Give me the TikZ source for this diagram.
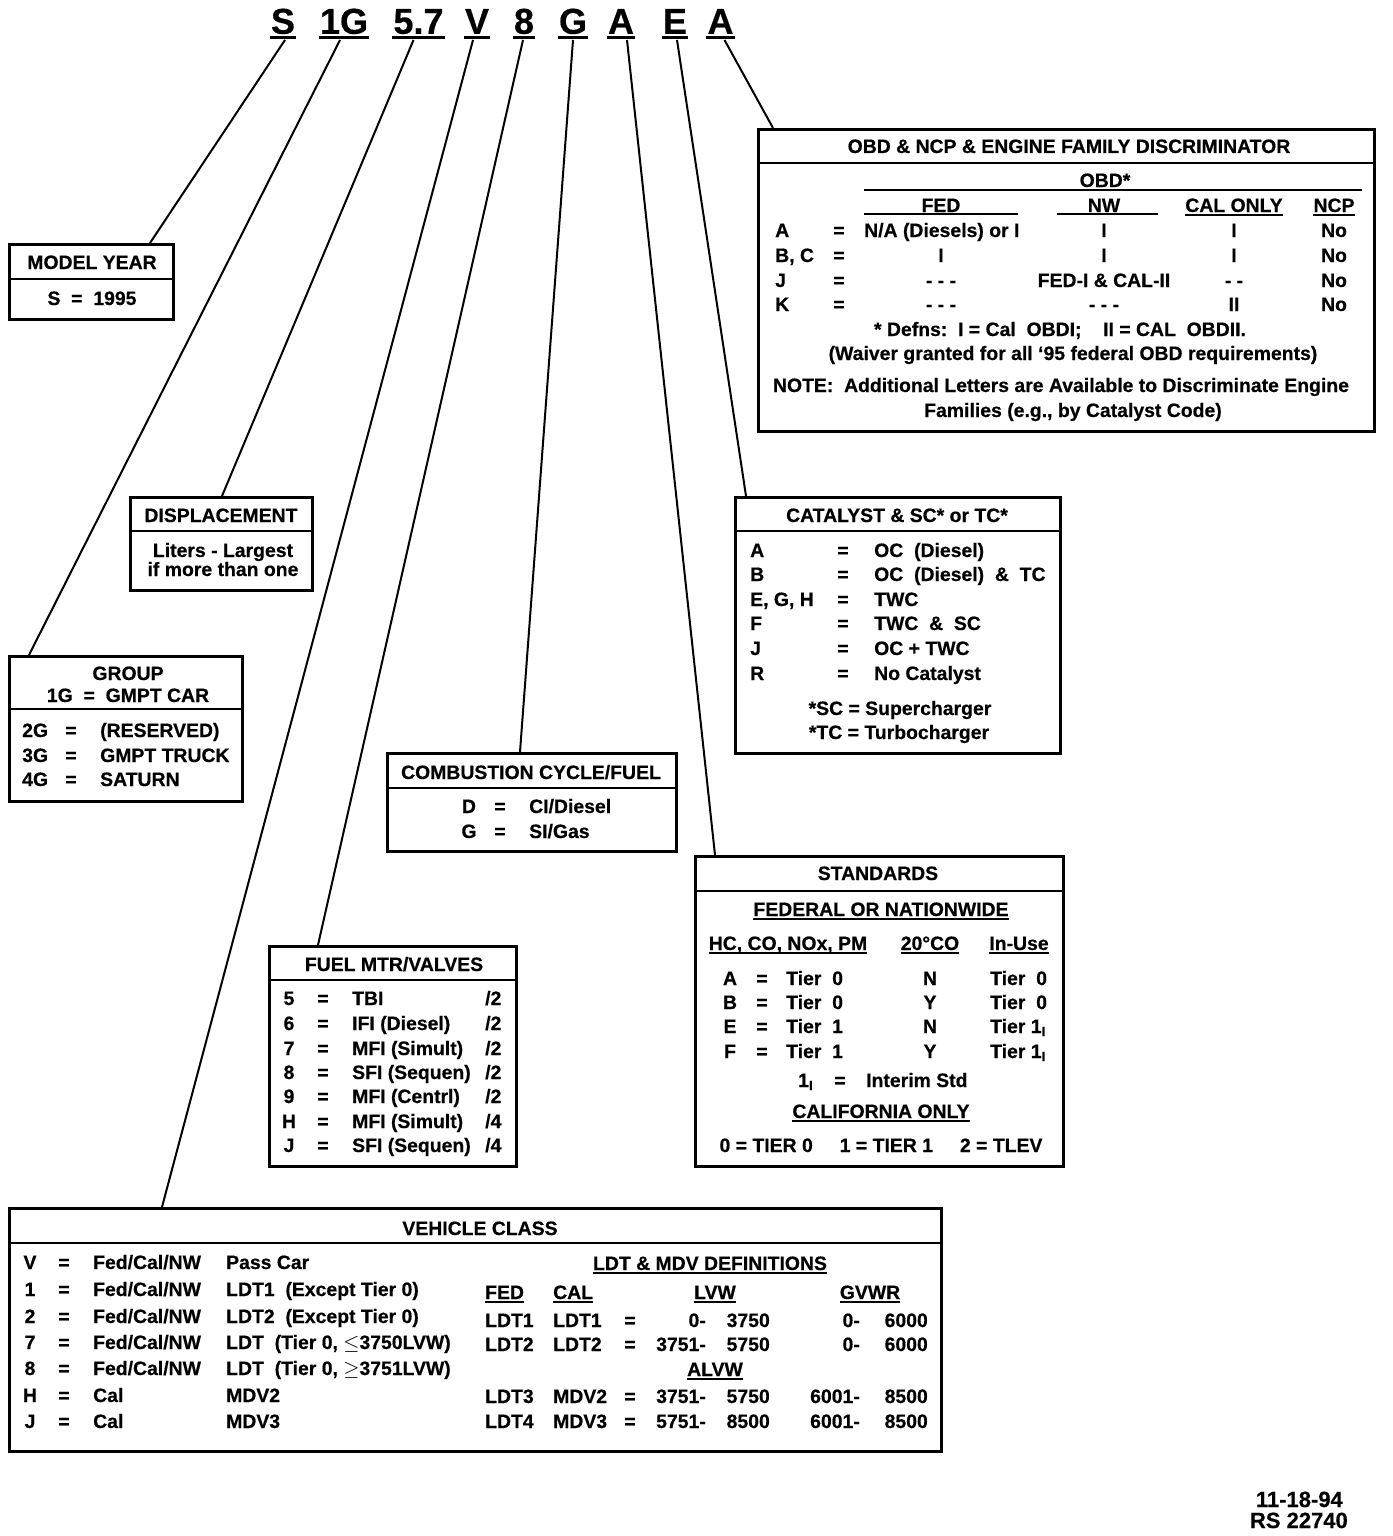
\documentclass[tikz,border=0pt]{standalone}
\usepackage{fontspec}
\setmainfont{Liberation Sans}[BoldFeatures={FakeBold=0.5}]
\usepackage{tikz}
\usetikzlibrary{calc,positioning}
\definecolor{scanBlack}{RGB}{0,0,0}

\tikzset{
  code/.style={font=\fontsize{36}{40}\selectfont\bfseries, inner sep=0pt, anchor=south, text depth=0pt,
    append after command={([xshift=-1pt,yshift=-3.5pt]\tikzlastnode.south west) edge[line width=3pt, scanBlack] ([xshift=1pt,yshift=-3.5pt]\tikzlastnode.south east)}},
  leader/.style={scanBlack, line width=2pt},
  frame/.style={draw=scanBlack, line width=2.6pt, anchor=north west, inner sep=0pt},
  divider/.style={scanBlack, line width=2pt},
  rule/.style={scanBlack, line width=1.6pt},
  txt/.style={font=\fontsize{19.4}{22}\selectfont\bfseries, text=scanBlack, inner sep=0pt, text height=14pt, text depth=0pt},
  lt/.style={txt, anchor=west},
  rt/.style={txt, anchor=east},
  uline/.style={append after command={([yshift=-3pt]\tikzlastnode.south west) edge[rule] ([yshift=-3pt]\tikzlastnode.south east)}},
}

\begin{document}
\begin{tikzpicture}[x=1pt, y=-1pt]
\useasboundingbox (0,0) rectangle (1392,1536);

% engine code
\node[code] (cS) at (283,34) {S};
\node[code] (cG1) at (344,34) {1G};
\node[code] (cL) at (418.5,34) {5.7};
\node[code] (cV) at (477,34) {V};
\node[code] (c8) at (524,34) {8};
\node[code] (cG) at (573,34) {G};
\node[code] (cA) at (621,34) {A};
\node[code] (cE) at (675,34) {E};
\node[code] (cA2) at (720.5,34) {A};

% model year
\node[frame, minimum width=164, minimum height=75] (year) at (8,243) {};
\draw[divider] ([yshift=-36pt]year.north west) -- ([yshift=-36pt]year.north east);
\node[txt] (yearT) at (92,262) {MODEL YEAR};
\node[txt] (yearS) at (92,298) {S~~=~~1995};

% displacement
\node[frame, minimum width=182, minimum height=93] (disp) at (129,496) {};
\draw[divider] ([yshift=-35pt]disp.north west) -- ([yshift=-35pt]disp.north east);
\node[txt] (dispT) at (221,515) {DISPLACEMENT};
\node[txt] (dispA) at (223,550) {Liters - Largest};
\node[txt] (dispB) at (223,569) {if more than one};

% group
\node[frame, minimum width=233, minimum height=145] (grp) at (8,655) {};
\draw[divider] ([yshift=-54pt]grp.north west) -- ([yshift=-54pt]grp.north east);
\node[txt] (grpT) at (128,673) {GROUP};
\node[txt] (grpA) at (128,695) {1G~~=~~GMPT CAR};
\node[lt] (g2k) at (22,730) {2G}; \node[txt] (g2e) at (71,730) {=}; \node[lt] (g2v) at (100,730) {(RESERVED)};
\node[lt] (g3k) at (22,755) {3G}; \node[txt] (g3e) at (71,755) {=}; \node[lt] (g3v) at (100,755) {GMPT TRUCK};
\node[lt] (g4k) at (22,779) {4G}; \node[txt] (g4e) at (71,779) {=}; \node[lt] (g4v) at (100,779) {SATURN};

% obd & ncp
\node[frame, minimum width=616, minimum height=302] (obd) at (757,128) {};
\draw[divider] ([yshift=-35pt]obd.north west) -- ([yshift=-35pt]obd.north east);
\node[txt] (obdT) at (1069,146) {OBD \& NCP \& ENGINE FAMILY DISCRIMINATOR};
\node[txt] (obdH) at (1105,180) {OBD*};
\draw[rule] (864,190) -- (1362,190);
\node[txt] (obdFed) at (941,205) {FED};
\draw[rule] (864,214) -- (1018,214);
\node[txt] (obdNw) at (1104,205) {NW};
\draw[rule] (1057,214) -- (1158,214);
\node[txt, uline] (obdCal) at (1234,205) {CAL ONLY};
\node[txt, uline] (obdNcp) at (1334,205) {NCP};
\node[lt] (oAk) at (775,230) {A}; \node[txt] (oAe) at (839,230) {=}; \node[lt] (oAf) at (864,230) {N/A (Diesels) or I};
\node[txt] (oAn) at (1104,230) {I}; \node[txt] (oAc) at (1234,230) {I}; \node[txt] (oAp) at (1334,230) {No};
\node[lt] (oBk) at (775,255) {B, C}; \node[txt] (oBe) at (839,255) {=}; \node[txt] (oBf) at (941,255) {I};
\node[txt] (oBn) at (1104,255) {I}; \node[txt] (oBc) at (1234,255) {I}; \node[txt] (oBp) at (1334,255) {No};
\node[lt] (oJk) at (775,280) {J}; \node[txt] (oJe) at (839,280) {=}; \node[txt] (oJf) at (941,280) {- - -};
\node[txt] (oJn) at (1104,280) {FED-I \& CAL-II}; \node[txt] (oJc) at (1234,280) {- -}; \node[txt] (oJp) at (1334,280) {No};
\node[lt] (oKk) at (775,304) {K}; \node[txt] (oKe) at (839,304) {=}; \node[txt] (oKf) at (941,304) {- - -};
\node[txt] (oKn) at (1104,304) {- - -}; \node[txt] (oKc) at (1234,304) {II}; \node[txt] (oKp) at (1334,304) {No};
\node[txt] (obdDef) at (1060,329) {* Defns:~~I = Cal~~OBDI;~~~~II = CAL~~OBDII.};
\node[txt] (obdWv) at (1073,353) {(Waiver granted for all `95 federal OBD requirements)};
\node[txt] (obdNa) at (1061,385) {NOTE:~~Additional Letters are Available to Discriminate Engine};
\node[txt] (obdNb) at (1073,410) {Families (e.g., by Catalyst Code)};

% catalyst
\node[frame, minimum width=325, minimum height=256] (cat) at (734,496) {};
\draw[divider] ([yshift=-35pt]cat.north west) -- ([yshift=-35pt]cat.north east);
\node[txt] (catT) at (897,515) {CATALYST \& SC* or TC*};
\node[lt] (kA) at (750,550) {A}; \node[txt] (eA) at (843,550) {=}; \node[lt] (vA) at (874,550) {OC~~(Diesel)};
\node[lt] (kB) at (750,574) {B}; \node[txt] (eB) at (843,574) {=}; \node[lt] (vB) at (874,574) {OC~~(Diesel)~~\&~~TC};
\node[lt] (kE) at (750,599) {E, G, H}; \node[txt] (eE) at (843,599) {=}; \node[lt] (vE) at (874,599) {TWC};
\node[lt] (kF) at (750,623) {F}; \node[txt] (eF) at (843,623) {=}; \node[lt] (vF) at (874,623) {TWC~~\&~~SC};
\node[lt] (kJ) at (750,648) {J}; \node[txt] (eJ) at (843,648) {=}; \node[lt] (vJ) at (874,648) {OC + TWC};
\node[lt] (kR) at (750,673) {R}; \node[txt] (eR) at (843,673) {=}; \node[lt] (vR) at (874,673) {No Catalyst};
\node[txt] (catSc) at (900,708) {*SC = Supercharger};
\node[txt] (catTc) at (899,732) {*TC = Turbocharger};

% combustion
\node[frame, minimum width=289, minimum height=98] (comb) at (386,752) {};
\draw[divider] ([yshift=-36pt]comb.north west) -- ([yshift=-36pt]comb.north east);
\node[txt] (combT) at (531,772) {COMBUSTION CYCLE/FUEL};
\node[txt] (cbDk) at (469,806) {D}; \node[txt] (cbDe) at (500,806) {=}; \node[lt] (cbDv) at (529,806) {CI/Diesel};
\node[txt] (cbGk) at (469,831) {G}; \node[txt] (cbGe) at (500,831) {=}; \node[lt] (cbGv) at (529,831) {SI/Gas};

% standards
\node[frame, minimum width=368, minimum height=310] (std) at (694,855) {};
\draw[divider] ([yshift=-36pt]std.north west) -- ([yshift=-36pt]std.north east);
\node[txt] (stdT) at (878,873) {STANDARDS};
\node[txt, uline] (stdFed) at (881,909) {FEDERAL OR NATIONWIDE};
\node[txt, uline] (stdH1) at (788,943) {HC, CO, NOx, PM};
\node[txt, uline] (stdH2) at (930,943) {20°CO};
\node[txt, uline] (stdH3) at (1019,943) {In-Use};
\node[txt] (sAk) at (730,978) {A}; \node[txt] (sAe) at (762,978) {=}; \node[lt] (sAt) at (786,978) {Tier~~0};
\node[txt] (sAc) at (930,978) {N}; \node[lt] (sAu) at (990,978) {Tier~~0};
\node[txt] (sBk) at (730,1002) {B}; \node[txt] (sBe) at (762,1002) {=}; \node[lt] (sBt) at (786,1002) {Tier~~0};
\node[txt] (sBc) at (930,1002) {Y}; \node[lt] (sBu) at (990,1002) {Tier~~0};
\node[txt] (sEk) at (730,1026) {E}; \node[txt] (sEe) at (762,1026) {=}; \node[lt] (sEt) at (786,1026) {Tier~~1};
\node[txt] (sEc) at (930,1026) {N}; \node[lt] (sEu) at (990,1026) {Tier 1\textsubscript{I}};
\node[txt] (sFk) at (730,1051) {F}; \node[txt] (sFe) at (762,1051) {=}; \node[lt] (sFt) at (786,1051) {Tier~~1};
\node[txt] (sFc) at (930,1051) {Y}; \node[lt] (sFu) at (990,1051) {Tier 1\textsubscript{I}};
\node[lt] (sIk) at (798,1080) {1\textsubscript{I}}; \node[txt] (sIe) at (840,1080) {=}; \node[lt] (sIv) at (866,1080) {Interim Std};
\node[txt, uline] (stdCal) at (881,1111) {CALIFORNIA ONLY};
\node[txt] (stdTiers) at (881,1145) {0 = TIER 0~~~~~1 = TIER 1~~~~~2 = TLEV};

% fuel metering
\node[frame, minimum width=247, minimum height=220] (fuel) at (268,945) {};
\draw[divider] ([yshift=-35pt]fuel.north west) -- ([yshift=-35pt]fuel.north east);
\node[txt] (fuelT) at (394,964) {FUEL MTR/VALVES};
\node[txt] (f5k) at (289,998) {5}; \node[txt] (f5e) at (323,998) {=}; \node[lt] (f5v) at (352,998) {TBI}; \node[lt] (f5r) at (485,998) {/2};
\node[txt] (f6k) at (289,1023) {6}; \node[txt] (f6e) at (323,1023) {=}; \node[lt] (f6v) at (352,1023) {IFI (Diesel)}; \node[lt] (f6r) at (485,1023) {/2};
\node[txt] (f7k) at (289,1048) {7}; \node[txt] (f7e) at (323,1048) {=}; \node[lt] (f7v) at (352,1048) {MFI (Simult)}; \node[lt] (f7r) at (485,1048) {/2};
\node[txt] (f8k) at (289,1072) {8}; \node[txt] (f8e) at (323,1072) {=}; \node[lt] (f8v) at (352,1072) {SFI (Sequen)}; \node[lt] (f8r) at (485,1072) {/2};
\node[txt] (f9k) at (289,1096) {9}; \node[txt] (f9e) at (323,1096) {=}; \node[lt] (f9v) at (352,1096) {MFI (Centrl)}; \node[lt] (f9r) at (485,1096) {/2};
\node[txt] (fHk) at (289,1121) {H}; \node[txt] (fHe) at (323,1121) {=}; \node[lt] (fHv) at (352,1121) {MFI (Simult)}; \node[lt] (fHr) at (485,1121) {/4};
\node[txt] (fJk) at (289,1145) {J}; \node[txt] (fJe) at (323,1145) {=}; \node[lt] (fJv) at (352,1145) {SFI (Sequen)}; \node[lt] (fJr) at (485,1145) {/4};

% vehicle class
\node[frame, minimum width=932, minimum height=243] (veh) at (8,1207) {};
\draw[divider] ([yshift=-36pt]veh.north west) -- ([yshift=-36pt]veh.north east);
\node[txt] (vehT) at (480,1228) {VEHICLE CLASS};
\node[txt] (vVk) at (30,1262) {V}; \node[txt] (vVe) at (64,1262) {=}; \node[lt] (vVr) at (93,1262) {Fed/Cal/NW}; \node[lt] (vVd) at (226,1262) {Pass Car};
\node[txt] (v1k) at (30,1289) {1}; \node[txt] (v1e) at (64,1289) {=}; \node[lt] (v1r) at (93,1289) {Fed/Cal/NW}; \node[lt] (v1d) at (226,1289) {LDT1~~(Except Tier 0)};
\node[txt] (v2k) at (30,1316) {2}; \node[txt] (v2e) at (64,1316) {=}; \node[lt] (v2r) at (93,1316) {Fed/Cal/NW}; \node[lt] (v2d) at (226,1316) {LDT2~~(Except Tier 0)};
\node[txt] (v7k) at (30,1342) {7}; \node[txt] (v7e) at (64,1342) {=}; \node[lt] (v7r) at (93,1342) {Fed/Cal/NW}; \node[lt] (v7d) at (226,1342) {LDT~~(Tier 0, $\leq$3750LVW)};
\node[txt] (v8k) at (30,1368) {8}; \node[txt] (v8e) at (64,1368) {=}; \node[lt] (v8r) at (93,1368) {Fed/Cal/NW}; \node[lt] (v8d) at (226,1368) {LDT~~(Tier 0, $\geq$3751LVW)};
\node[txt] (vHk) at (30,1395) {H}; \node[txt] (vHe) at (64,1395) {=}; \node[lt] (vHr) at (93,1395) {Cal}; \node[lt] (vHd) at (226,1395) {MDV2};
\node[txt] (vJk) at (30,1421) {J}; \node[txt] (vJe) at (64,1421) {=}; \node[lt] (vJr) at (93,1421) {Cal}; \node[lt] (vJd) at (226,1421) {MDV3};
\node[txt, uline] (defT) at (710,1263) {LDT \& MDV DEFINITIONS};
\node[lt, uline] (dFed) at (485,1292) {FED};
\node[lt, uline] (dCal) at (553,1292) {CAL};
\node[txt, uline] (dLvw) at (715,1292) {LVW};
\node[txt, uline] (dGvw) at (870,1292) {GVWR};
\node[lt] (d1a) at (485,1320) {LDT1}; \node[lt] (d1b) at (553,1320) {LDT1}; \node[txt] (d1e) at (630,1320) {=};
\node[rt] (d1c) at (706,1320) {0-}; \node[rt] (d1d) at (770,1320) {3750}; \node[rt] (d1f) at (860,1320) {0-}; \node[rt] (d1g) at (928,1320) {6000};
\node[lt] (d2a) at (485,1344) {LDT2}; \node[lt] (d2b) at (553,1344) {LDT2}; \node[txt] (d2e) at (630,1344) {=};
\node[rt] (d2c) at (706,1344) {3751-}; \node[rt] (d2d) at (770,1344) {5750}; \node[rt] (d2f) at (860,1344) {0-}; \node[rt] (d2g) at (928,1344) {6000};
\node[txt, uline] (dAlvw) at (715,1369) {ALVW};
\node[lt] (d3a) at (485,1396) {LDT3}; \node[lt] (d3b) at (553,1396) {MDV2}; \node[txt] (d3e) at (630,1396) {=};
\node[rt] (d3c) at (706,1396) {3751-}; \node[rt] (d3d) at (770,1396) {5750}; \node[rt] (d3f) at (860,1396) {6001-}; \node[rt] (d3g) at (928,1396) {8500};
\node[lt] (d4a) at (485,1421) {LDT4}; \node[lt] (d4b) at (553,1421) {MDV3}; \node[txt] (d4e) at (630,1421) {=};
\node[rt] (d4c) at (706,1421) {5751-}; \node[rt] (d4d) at (770,1421) {8500}; \node[rt] (d4f) at (860,1421) {6001-}; \node[rt] (d4g) at (928,1421) {8500};

% leaders
\draw[leader] ([xshift=2pt,yshift=-6pt]cS.south) -- ([xshift=142pt]year.north west);
\draw[leader] ([xshift=-4pt,yshift=-6pt]cG1.south) -- ([xshift=21pt]grp.north west);
\draw[leader] ([xshift=-5pt,yshift=-6pt]cL.south) -- ([xshift=93pt]disp.north west);
\draw[leader] ([xshift=-4pt,yshift=-6pt]cV.south) -- ([xshift=154pt]veh.north west);
\draw[leader] ([xshift=-1pt,yshift=-6pt]c8.south) -- ([xshift=50pt]fuel.north west);
\draw[leader] ([yshift=-6pt]cG.south) -- ([xshift=134pt]comb.north west);
\draw[leader] ([xshift=6pt,yshift=-6pt]cA.south) -- ([xshift=21pt]std.north west);
\draw[leader] ([xshift=2pt,yshift=-6pt]cE.south) -- ([xshift=12pt]cat.north west);
\draw[leader] ([xshift=4pt,yshift=-6pt]cA2.south) -- ([xshift=16pt]obd.north west);

\node[rt, font=\fontsize{22}{24}\selectfont\bfseries] (date) at (1343,1500) {11-18-94};
\node[rt, font=\fontsize{22}{24}\selectfont\bfseries] (ref) at (1348,1521) {RS 22740};
\end{tikzpicture}
\end{document}
